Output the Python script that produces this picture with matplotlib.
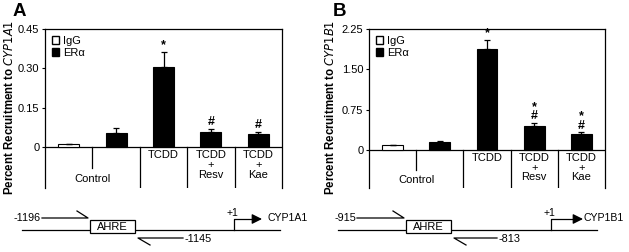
import matplotlib.pyplot as plt
from matplotlib.patches import Patch, Rectangle

plt.rcParams['font.family'] = ['Liberation Sans', 'DejaVu Sans']

# bar data (slot 0 = IgG control, slots 1-4 = ERa)
groups = ['Control', 'Control', 'TCDD', 'TCDD\n+\nResv', 'TCDD\n+\nKae']
series = ['IgG', 'ERa', 'ERa', 'ERa', 'ERa']
a_vals = [0.011, 0.053, 0.305, 0.057, 0.048]
a_errs = [0.002, 0.021, 0.057, 0.013, 0.010]
a_marks = ['', '', '*', '#', '#']
b_vals = [0.09, 0.15, 1.88, 0.44, 0.29]
b_errs = [0.01, 0.01, 0.17, 0.06, 0.04]
b_marks = ['', '', '*', '*\n#', '*\n#']
a_ticks = [0, 0.15, 0.30, 0.45]
a_ticklabels = ['0', '0.15', '0.30', '0.45']
b_ticks = [0, 0.75, 1.50, 2.25]
b_ticklabels = ['0', '0.75', '1.50', '2.25']

W, H = 629, 252
fig = plt.figure(figsize=(W / 100, H / 100), dpi=100)


def px_axes(x0, x1, y0, y1):
    # pixel box (top-left origin) -> figure fraction
    return fig.add_axes([x0 / W, 1 - y1 / H, (x1 - x0) / W, (y1 - y0) / H])


def panel(ax, vals, errs, marks, ticks, ticklabels, ymin, gene, letter, lx):
    x = list(range(len(vals)))
    colors = ['white' if s == 'IgG' else 'black' for s in series]
    ax.bar(x, vals, width=0.44, color=colors, edgecolor='black', linewidth=0.8, zorder=3)
    ax.errorbar(x, vals, yerr=[[0] * len(errs), errs], fmt='none', ecolor='black',
                elinewidth=0.9, capsize=2.5, capthick=0.9, zorder=4)
    top = ticks[-1]
    for xi, v, e, m in zip(x, vals, errs, marks):
        if m:
            ax.text(xi, v + e + top * 0.005, m, ha='center', va='bottom',
                    fontsize=9, fontweight='bold', linespacing=0.7)
    ax.set_xlim(-0.5, len(vals) - 0.5)
    ax.set_ylim(ymin, top)
    ax.set_yticks(ticks)
    ax.set_yticklabels(ticklabels, fontsize=8)
    ax.set_xticks([])
    ax.tick_params(axis='y', length=2.5, width=0.8, pad=1.5)
    for s in ax.spines.values():
        s.set_linewidth(0.9)
    ax.spines['bottom'].set_visible(False)
    # table under the bars
    ax.axhline(0, color='black', linewidth=0.9)
    ax.plot([0.5, 0.5], [0, ymin * 0.52], color='black', linewidth=0.9)
    for b in [1.5, 2.5, 3.5]:
        ax.plot([b, b], [0, ymin], color='black', linewidth=0.9)
    ax.text(0.5, ymin * 0.78, 'Control', ha='center', va='center', fontsize=8)
    for xi in range(2, len(vals)):
        ax.text(xi, ymin * 0.08, groups[xi], ha='center', va='top', fontsize=8,
                linespacing=0.95)
    handles = [Patch(facecolor='white', edgecolor='black', label='IgG'),
               Patch(facecolor='black', edgecolor='black', label='ER\u03b1')]
    ax.legend(handles=handles, loc='upper left', frameon=False, fontsize=8,
              handlelength=0.7, handleheight=0.7, handletextpad=0.3,
              borderaxespad=0.2, labelspacing=0.2)
    fig.text(lx, 1 - 107 / H, 'Percent Recruitment to $\\bf{\\it{' + gene + '}}$',
             rotation=90, ha='center', va='center', fontsize=8.3, fontweight='bold')
    fig.text(lx + 9 / W, 1 - 11 / H, letter, ha='center', va='center',
             fontsize=13.5, fontweight='bold')


axA = px_axes(45, 282, 29, 188)
panel(axA, a_vals, a_errs, a_marks, a_ticks, a_ticklabels, -0.156, 'CYP1A1', 'A', 10 / W)
axB = px_axes(369, 605, 29, 188)
panel(axB, b_vals, b_errs, b_marks, b_ticks, b_ticklabels, -0.707, 'CYP1B1', 'B', 330 / W)

# promoter diagrams (pixel overlay)
ov = fig.add_axes([0, 0, 1, 1])
ov.set_xlim(0, W)
ov.set_ylim(H, 0)
ov.axis('off')


def diagram(x0, line_end, box0, fwd0, rev1, tss, arr_end, up, down, gene, gap):
    y = 230
    ov.plot([x0, line_end], [y, y], color='black', linewidth=0.9)
    ov.add_patch(Rectangle((box0, 220), 45, 13, facecolor='white', edgecolor='black',
                           linewidth=0.9, zorder=3))
    ov.text(box0 + 22.5, 227, 'AHRE', ha='center', va='center', fontsize=8, zorder=4)
    # forward primer
    ov.plot([fwd0, box0 - 2, box0 - 13], [218, 218, 211], color='black', linewidth=0.9)
    ov.text(fwd0 - 1, 218, up, ha='right', va='center', fontsize=7.8)
    # reverse primer
    ov.plot([rev1, box0 + 48, box0 + 60], [238, 238, 245], color='black', linewidth=0.9)
    ov.text(rev1 + 2, 239, down, ha='left', va='center', fontsize=7.8)
    # transcription start
    ov.plot([tss, tss, arr_end - 7], [y, 219, 219], color='black', linewidth=0.9)
    ov.annotate('', xy=(arr_end, 219), xytext=(arr_end - 9, 219),
                arrowprops=dict(arrowstyle='-|>,head_length=0.6,head_width=0.3',
                                color='black', lw=0.9, shrinkA=0, shrinkB=0))
    ov.text(tss - 2, 213, '+1', ha='center', va='center', fontsize=7.5)
    ov.text(arr_end + gap, 218, gene, ha='left', va='center', fontsize=7.6)


diagram(22, 280, 90, 42, 183, 234, 262, '-1196', '-1145', 'CYP1A1', 5)
diagram(338, 597, 406, 357, 497, 551, 583, '-915', '-813', 'CYP1B1', 1)

fig.savefig('out.png', dpi=100)
